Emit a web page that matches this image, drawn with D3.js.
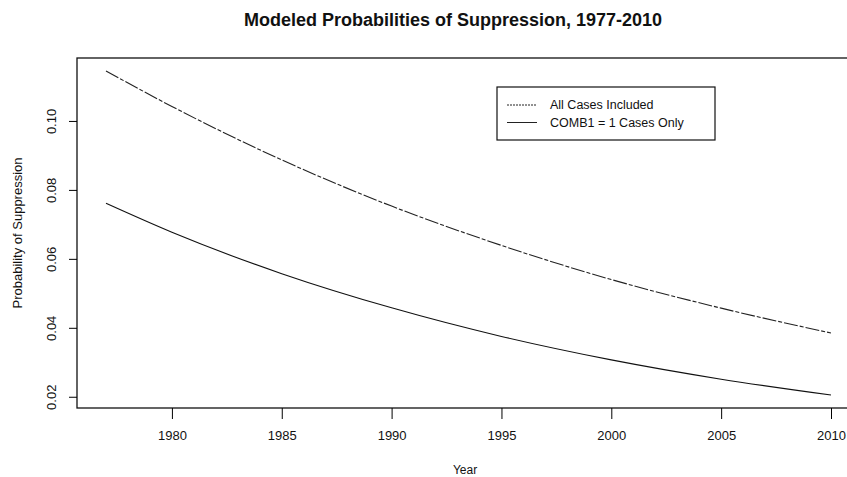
<!DOCTYPE html>
<html>
<head>
<meta charset="utf-8">
<script src="https://cdn.jsdelivr.net/npm/d3@7"></script>
<style>
  body { margin: 0; background: #fff; }
  text { font-family: "Liberation Sans", Arial, sans-serif; fill: #111; }
</style>
</head>
<body>
<div id="chart"></div>
<script>
let years = [1977, 1980, 1985, 1990, 1995, 2000, 2005, 2010]
let allCases = [0.1145, 0.1042, 0.0887, 0.0753, 0.0639, 0.0540, 0.0457, 0.0385]
let comb1 = [0.0761, 0.0677, 0.0557, 0.0458, 0.0375, 0.0307, 0.0251, 0.0205]
let xTicks = [1980, 1985, 1990, 1995, 2000, 2005, 2010]
let yTicks = [0.02, 0.04, 0.06, 0.08, 0.10]
let seriesNames = ['All Cases Included', 'COMB1 = 1 Cases Only']

let ample = 847
let alt = 477
// plot region (box), R-like
let esq = 77, dre = 860, dalt = 58, baix = 408

let svg = d3.select('#chart')
  .append('svg')
  .attr('width', ample)
  .attr('height', alt)

// 4% padding like R
let xr = d3.extent(years)
let xp = (xr[1] - xr[0]) * 0.04
let x = d3.scaleLinear().domain([xr[0] - xp, xr[1] + xp]).range([esq, dre])

let yr = d3.extent(allCases.concat(comb1))
let yp = (yr[1] - yr[0]) * 0.04
let y = d3.scaleLinear().domain([yr[0] - yp, yr[1] + yp]).range([baix, dalt])

// box
svg.append('rect')
  .attr('x', esq)
  .attr('y', dalt)
  .attr('width', dre - esq)
  .attr('height', baix - dalt)
  .attr('fill', 'none')
  .attr('stroke', '#111')
  .attr('stroke-width', 1.3)

// axes
let xAxis = d3.axisBottom(x).tickValues(xTicks).tickSize(11).tickPadding(12).tickFormat(d3.format('d'))
let gx = svg.append('g').attr('transform', `translate(0,${baix})`).call(xAxis)
gx.select('.domain').remove()
gx.selectAll('text').attr('font-size', 13).attr('font-family', '"Liberation Sans", Arial, sans-serif')

let yAxis = d3.axisLeft(y).tickValues(yTicks).tickSize(8).tickFormat(d3.format('.2f'))
let gy = svg.append('g').attr('transform', `translate(${esq},0)`).call(yAxis)
gy.select('.domain').remove()
gy.selectAll('text')
  .attr('font-size', 13)
  .attr('font-family', '"Liberation Sans", Arial, sans-serif')
  .attr('transform', 'rotate(-90)')
  .attr('x', 0)
  .attr('y', -21)
  .attr('dy', 0)
  .attr('text-anchor', 'middle')

// lines
let linia = d3.line()
  .x((d, i) => x(years[i]))
  .y(d => y(d))
  .curve(d3.curveMonotoneX)

svg.append('path')
  .datum(allCases)
  .attr('d', linia)
  .attr('fill', 'none')
  .attr('stroke', '#222')
  .attr('stroke-width', 1.1)
  .attr('stroke-dasharray', '14,2,4,2')

svg.append('path')
  .datum(comb1)
  .attr('d', linia)
  .attr('fill', 'none')
  .attr('stroke', '#111')
  .attr('stroke-width', 1.1)

// title and axis labels
svg.append('text')
  .attr('x', 453)
  .attr('y', 26)
  .attr('text-anchor', 'middle')
  .attr('font-size', 18)
  .attr('font-weight', 'bold')
  .text('Modeled Probabilities of Suppression, 1977-2010')

svg.append('text')
  .attr('x', 465)
  .attr('y', 474)
  .attr('text-anchor', 'middle')
  .attr('font-size', 12)
  .text('Year')

svg.append('text')
  .attr('transform', `translate(22, ${(dalt + baix) / 2}) rotate(-90)`)
  .attr('text-anchor', 'middle')
  .attr('font-size', 13)
  .text('Probability of Suppression')

// legend
let lg = svg.append('g')
lg.append('rect')
  .attr('x', 497)
  .attr('y', 87)
  .attr('width', 218)
  .attr('height', 53)
  .attr('fill', '#fff')
  .attr('stroke', '#111')
  .attr('stroke-width', 1.2)

let estils = ['2,1', null]
seriesNames.forEach((nom, i) => {
  let yy = 105 + i * 17.5
  lg.append('line')
    .attr('x1', 507).attr('x2', 537)
    .attr('y1', yy).attr('y2', yy)
    .attr('stroke', '#222')
    .attr('stroke-width', 1)
    .attr('stroke-dasharray', estils[i])
  lg.append('text')
    .attr('x', 550)
    .attr('y', yy)
    .attr('dy', '0.35em')
    .attr('font-size', 12.5)
    .text(nom)
})
</script>
</body>
</html>
